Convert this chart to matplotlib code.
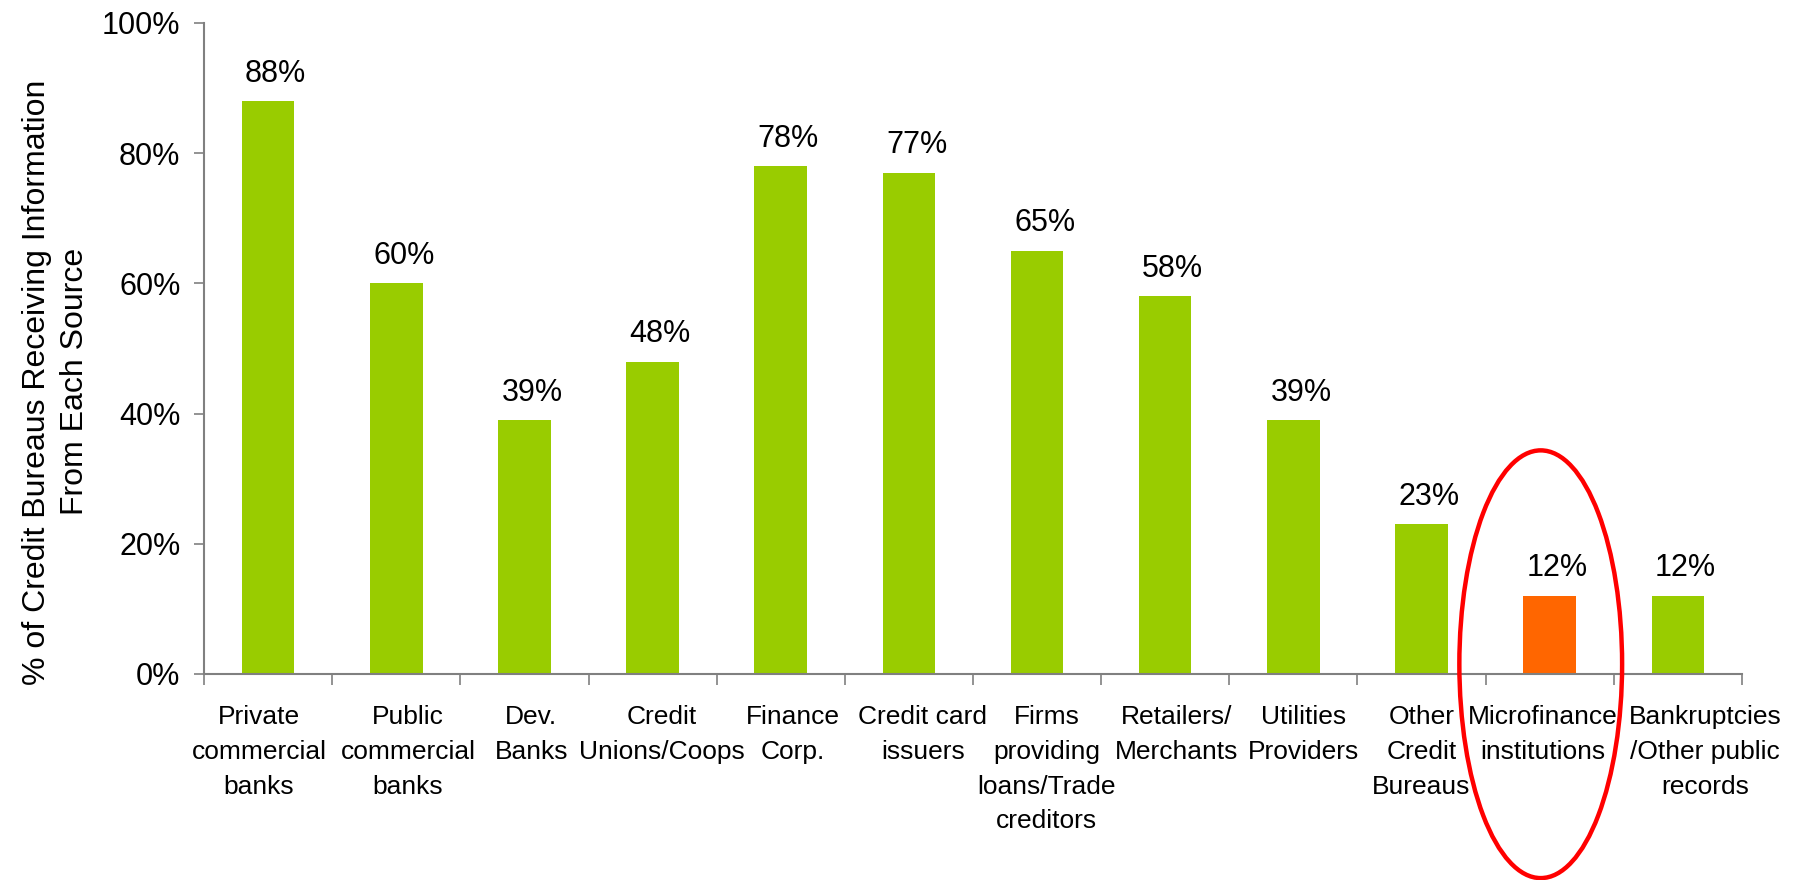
import numpy as np
import matplotlib
matplotlib.use("Agg")
import matplotlib.pyplot as plt
from matplotlib.patches import Ellipse
from matplotlib.ticker import PercentFormatter

plt.rcParams['font.family'] = ['Liberation Sans', 'DejaVu Sans']

categories = [
    "Private\ncommercial\nbanks",
    "Public\ncommercial\nbanks",
    "Dev.\nBanks",
    "Credit\nUnions/Coops",
    "Finance\nCorp.",
    "Credit card\nissuers",
    "Firms\nproviding\nloans/Trade\ncreditors",
    "Retailers/\nMerchants",
    "Utilities\nProviders",
    "Other\nCredit\nBureaus",
    "Microfinance\ninstitutions",
    "Bankruptcies\n/Other public\nrecords",
]
shares = [88, 60, 39, 48, 78, 77, 65, 58, 39, 23, 12, 12]
highlight = "Microfinance\ninstitutions"

# sideways nudges (points) so the wrapped category names don't collide
label_nudge = [-6.5, 8.5, 5, 6.5, 8.5, 10, 7, 8, 7, 0, -5, 19.5]

green = "#99CC00"
orange = "#FF6600"
axis_grey = "#808080"

fig = plt.figure(figsize=(17.96, 8.8), dpi=100)
ax = fig.add_axes([0.1136, 0.2341, 0.8563, 0.7398])

x = np.arange(len(categories))
colors = [orange if c == highlight else green for c in categories]
ax.bar(x, shares, width=0.41, color=colors, zorder=2)

for xi, v in zip(x, shares):
    ax.annotate(f"{v}%", (xi, v), xytext=(5.5, 9), textcoords="offset points",
                ha="center", va="bottom", fontsize=22)

ax.set_xlim(-0.5, len(categories) - 0.5)
ax.set_ylim(0, 100)

# tick marks sit on the category boundaries; names are placed separately
ax.set_xticks(np.arange(len(categories) + 1) - 0.5)
ax.set_xticklabels([])
ax.tick_params(axis="x", direction="out", length=8, width=1.2, color=axis_grey)

for xi, name, dx in zip(x, categories, label_nudge):
    ax.annotate(name, (xi, 0), xycoords=("data", "axes fraction"),
                xytext=(dx, -22.5), textcoords="offset points",
                ha="center", va="top", multialignment="center",
                fontsize=19, linespacing=1.56)

ax.set_yticks(np.arange(0, 101, 20))
ax.yaxis.set_major_formatter(PercentFormatter(decimals=0))
ax.tick_params(axis="y", direction="out", length=7, width=1.2, color=axis_grey,
               labelsize=22, pad=10)

for side in ("top", "right"):
    ax.spines[side].set_visible(False)
for side in ("left", "bottom"):
    ax.spines[side].set_color(axis_grey)
    ax.spines[side].set_linewidth(1.5)

fig.text(0.031, 0.566, "% of Credit Bureaus Receiving Information\nFrom Each Source",
         rotation=90, ha="center", va="center", multialignment="center",
         fontsize=23, linespacing=1.35)

# ring around the microfinance bar
ring = Ellipse((categories.index(highlight) - 0.07, 1.5), width=1.27, height=65.7,
               fill=False, edgecolor="#FF0000", linewidth=3.2, clip_on=False, zorder=3)
ax.add_patch(ring)

fig.savefig("out.png", dpi=100)
